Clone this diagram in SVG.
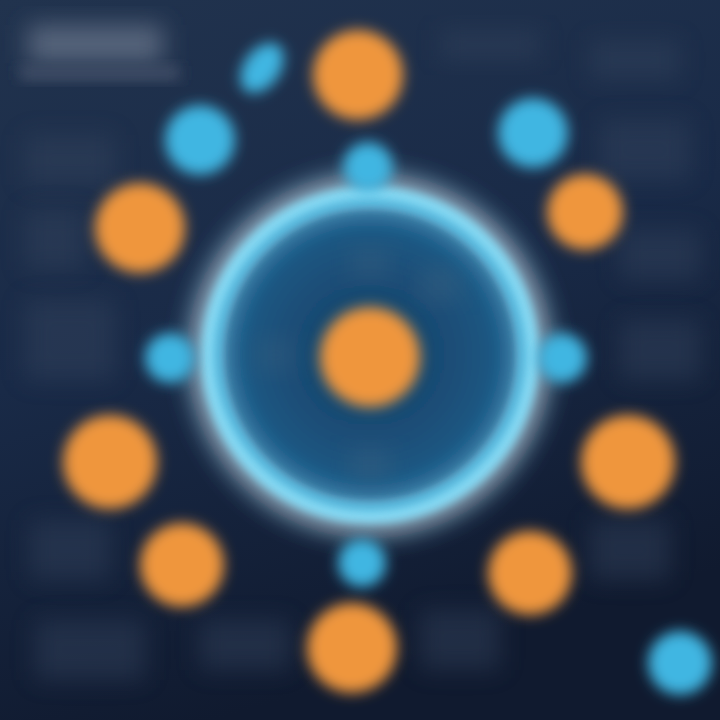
<svg xmlns="http://www.w3.org/2000/svg" width="720" height="720" viewBox="0 0 720 720">
<defs>
<linearGradient id="bg" x1="0" y1="0" x2="0.3" y2="1">
<stop offset="0" stop-color="#21334e"/>
<stop offset="0.5" stop-color="#192a47"/>
<stop offset="1" stop-color="#101a2f"/>
</linearGradient>
<radialGradient id="inner" cx="0.5" cy="0.5" r="0.5">
<stop offset="0" stop-color="#173d62"/>
<stop offset="0.75" stop-color="#1b5580"/>
<stop offset="1" stop-color="#2a78a6"/>
</radialGradient>
<radialGradient id="halo" cx="0.5" cy="0.5" r="0.5">
<stop offset="0" stop-color="#1e5a86" stop-opacity="0"/>
<stop offset="0.8" stop-color="#1e5a86" stop-opacity="0.5"/>
<stop offset="1" stop-color="#1e5a86" stop-opacity="0"/>
</radialGradient>
<filter id="b3" x="-50%" y="-50%" width="200%" height="200%"><feGaussianBlur stdDeviation="4"/></filter>
<filter id="b6" x="-50%" y="-50%" width="200%" height="200%"><feGaussianBlur stdDeviation="7"/></filter>
<filter id="b10" x="-50%" y="-50%" width="200%" height="200%"><feGaussianBlur stdDeviation="12"/></filter>
</defs>
<style>
.o{fill:#ef963c;filter:url(#b6)}
.c{fill:#3fb6e2;filter:url(#b6)}
.p{fill:#34445f;filter:url(#b10);opacity:0.45}
</style>
<rect width="720" height="720" fill="url(#bg)"/>
<g id="panels">
<rect x="28" y="25" width="135" height="38" fill="#56657b" filter="url(#b10)"/>
<rect x="20" y="66" width="160" height="14" fill="#3f4e66" filter="url(#b6)"/>
<rect x="440" y="30" width="100" height="30" class="p"/>
<rect x="590" y="40" width="90" height="40" class="p"/>
<rect x="600" y="120" width="90" height="60" class="p"/>
<rect x="25" y="135" width="90" height="50" class="p"/>
<rect x="25" y="210" width="60" height="60" class="p"/>
<rect x="25" y="300" width="90" height="80" class="p"/>
<rect x="620" y="230" width="80" height="50" class="p"/>
<rect x="620" y="320" width="80" height="60" class="p"/>
<rect x="30" y="520" width="80" height="60" class="p"/>
<rect x="35" y="620" width="110" height="60" class="p"/>
<rect x="200" y="620" width="90" height="50" class="p"/>
<rect x="420" y="610" width="80" height="60" class="p"/>
<rect x="590" y="520" width="80" height="60" class="p"/>
</g>
<g id="ring">
<circle cx="370" cy="355" r="195" fill="url(#halo)" filter="url(#b10)"/>
<circle cx="370" cy="355" r="158" fill="url(#inner)" filter="url(#b6)"/>
<circle cx="370" cy="355" r="166" fill="none" stroke="#dcebf3" stroke-width="30" opacity="0.6" filter="url(#b10)"/>
<circle cx="370" cy="355" r="160" fill="none" stroke="#86d8f2" stroke-width="18" filter="url(#b3)"/>
<circle cx="370" cy="355" r="152" fill="none" stroke="#3fb6e2" stroke-width="8" opacity="0.7" filter="url(#b3)"/>
<rect x="350" y="250" width="40" height="25" fill="#3a6080" filter="url(#b10)" opacity="0.5"/>
<rect x="420" y="270" width="40" height="30" fill="#3a6080" filter="url(#b10)" opacity="0.5"/>
<rect x="255" y="340" width="40" height="30" fill="#3a6080" filter="url(#b10)" opacity="0.4"/>
<rect x="350" y="450" width="40" height="30" fill="#3a6080" filter="url(#b10)" opacity="0.5"/>
</g>
<g id="center"><circle cx="370" cy="357" r="50" class="o"/></g>
<g id="orange-nodes">
<circle cx="358" cy="75" r="45" class="o"/>
<circle cx="140" cy="228" r="45" class="o"/>
<circle cx="585" cy="212" r="38" class="o"/>
<circle cx="110" cy="462" r="47" class="o"/>
<circle cx="628" cy="462" r="47" class="o"/>
<circle cx="182" cy="565" r="42" class="o"/>
<circle cx="530" cy="573" r="42" class="o"/>
<circle cx="352" cy="648" r="45" class="o"/>
</g>
<g id="blue-nodes">
<ellipse cx="262" cy="68" rx="18" ry="28" transform="rotate(35 262 68)" class="c"/>
<circle cx="200" cy="140" r="35" class="c"/>
<circle cx="533" cy="133" r="35" class="c"/>
<circle cx="368" cy="167" r="25" class="c"/>
<circle cx="170" cy="358" r="25" class="c"/>
<circle cx="562" cy="358" r="25" class="c"/>
<circle cx="362" cy="563" r="24" class="c"/>
<circle cx="680" cy="663" r="32" class="c"/>
</g>
</svg>
